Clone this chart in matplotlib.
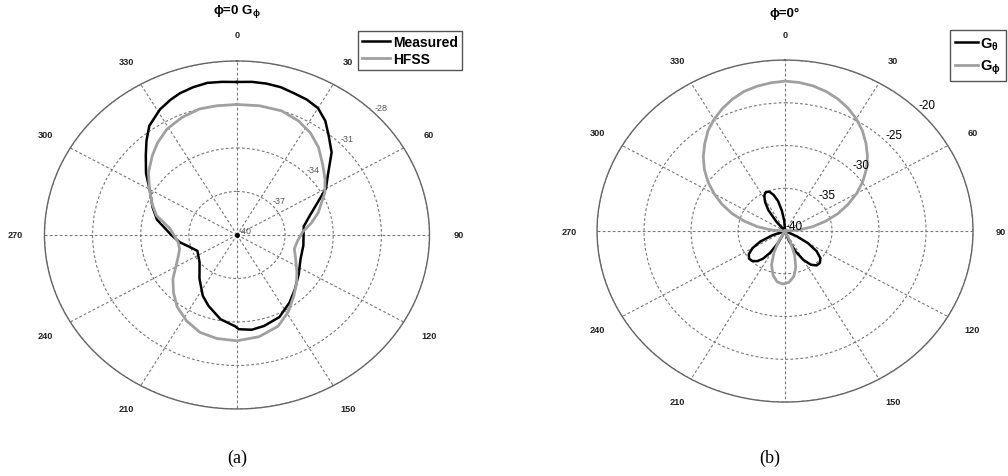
import numpy as np
import matplotlib
matplotlib.use('Agg')
import matplotlib.pyplot as plt

plt.rcParams['font.family'] = ['Liberation Sans', 'DejaVu Sans']
plt.rcParams['mathtext.fontset'] = 'custom'
plt.rcParams['mathtext.rm'] = 'Liberation Sans'
plt.rcParams['mathtext.bf'] = 'Liberation Sans:bold'
plt.rcParams['mathtext.it'] = 'Liberation Sans:italic'

# ---------------- (a) data: angle (deg) / gain (dB) ----------------
meas_ang = [0, 5, 10, 15, 20, 25, 30, 35, 40, 46, 54, 60, 66, 74, 82, 90, 100, 113, 125,
            136, 145, 155, 165, 172, 179, 181, 190, 200, 207, 218, 231, 246, 255, 262,
            270, 282, 290, 299, 307, 314, 319, 324, 331, 336, 340, 345, 350, 355, 360]
meas_db = [-29.45, -29.4, -29.4, -29.45, -29.6, -29.7, -29.9, -30.4, -31.1, -31.8, -33.0,
           -33.6, -34.5, -35.3, -35.8, -35.85, -35.8, -35.7, -35.3, -34.8, -34.3, -33.75,
           -33.5, -33.4, -33.5, -33.7, -34.1, -34.8, -35.3, -36.2, -37.0, -37.3, -36.9,
           -36.4, -35.9, -34.9, -34.4, -33.8, -32.9, -32.1, -31.4, -30.7, -30.1, -29.8,
           -29.6, -29.45, -29.35, -29.4, -29.45]
hfss_ang = [0, 9, 18, 26, 33, 40, 48, 55, 62, 73, 80, 87, 96, 105, 114, 124, 132, 140,
            149, 158, 169, 180, 190, 199, 208, 217, 225, 233, 240, 248, 255, 262, 269,
            276, 285, 292, 300, 308, 316, 322, 329, 337, 345, 352, 360]
hfss_db = [-31.0, -30.98, -31.0, -31.25, -31.6, -32.1, -32.8, -33.3, -33.8, -34.7, -35.3,
           -35.9, -36.2, -36.3, -36.0, -35.5, -35.0, -34.5, -33.8, -33.2, -32.85, -32.7,
           -32.75, -32.9, -33.3, -33.8, -34.4, -35.0, -35.6, -36.05, -36.3, -36.3, -36.1,
           -35.8, -34.8, -34.3, -33.7, -33.0, -32.4, -31.95, -31.5, -31.2, -31.0, -31.0,
           -31.0]
a_rticks = [-40, -37, -34, -31, -28]

# ---------------- (b) data ----------------
gth_ang = [0, 112, 116, 120, 125, 130, 135, 140, 145, 150, 155, 160, 164,
           204, 208, 212, 216, 220, 225, 230, 235, 240, 245, 250, 254,
           316, 320, 324, 328, 332, 336, 340, 344, 348, 352, 356, 360]
gth_db = [-40, -40, -38.6, -37.2, -35.9, -35.1, -34.75, -34.75, -35.2, -36.1, -37.4, -38.8, -40,
          -40, -38.4, -37.0, -36.0, -35.4, -35.05, -35.0, -35.3, -36.0, -37.1, -38.6, -40,
          -40, -38.6, -37.0, -36.0, -35.3, -35.0, -35.1, -35.6, -36.4, -37.6, -38.8, -40]
gph_ang = [-90, -85, -80, -75, -70, -65, -60, -55, -50, -45, -40, -35, -30, -25, -20, -15,
           -10, -5, 0, 5, 10, 15, 20, 25, 30, 35, 40, 45, 50, 55, 60, 65, 70, 75, 80, 85,
           90, 152, 156, 160, 165, 170, 176, 182, 188, 194, 200, 205, 210, 214, 270]
gph_db = [-40, -38.5, -37.0, -35.5, -34.0, -32.6, -31.3, -30.0, -28.8, -27.7, -26.7, -25.7,
          -24.9, -24.2, -23.6, -23.1, -22.8, -22.6, -22.46, -22.56, -22.76, -23.1, -23.56,
          -24.14, -24.84, -25.66, -26.6, -27.6, -28.7, -29.9, -31.2, -32.6, -34.0, -35.5,
          -37.0, -38.5, -40, -40, -38.6, -37.0, -35.6, -34.6, -34.0, -33.8, -34.0, -34.7,
          -35.8, -37.2, -38.7, -40, -40]
b_rticks = [-40, -35, -30, -25, -20]

ang_ticks = [0, 30, 60, 90, 120, 150, 210, 240, 270, 300, 330]

fig = plt.figure(figsize=(10.08, 4.77), dpi=100)

def setup(ax, rmin, rmax, rticks):
    ax.set_theta_zero_location('N')
    ax.set_theta_direction(-1)
    ax.set_ylim(rmin, rmax)
    ax.set_yticks(rticks)
    ax.set_yticklabels([])
    ax.set_xticks(np.deg2rad(np.arange(0, 360, 30)))
    ax.set_xticklabels([])
    ax.grid(True, ls=(0, (2.5, 2)), color='#777777', lw=0.8)
    ax.spines['polar'].set_color('#666666')
    ax.spines['polar'].set_linewidth(1.0)
    ax.set_aspect('auto')
    span = rmax - rmin
    for a in ang_ticks:
        ax.text(np.deg2rad(a), rmin + 1.15 * span, str(a), ha='center', va='center',
                fontsize=6.6, fontweight='bold', color='#222222', clip_on=False)

# (a)
axa = fig.add_axes([0.0441, 0.1405, 0.382, 0.7296], projection='polar')
setup(axa, -40, -28, a_rticks)
l1, = axa.plot(np.deg2rad(meas_ang), meas_db, color='black', lw=1.8, label='Measured')
l2, = axa.plot(np.deg2rad(hfss_ang), hfss_db, color='#a0a0a0', lw=2.0, label='HFSS')
axa.plot([0], [-40], 'o', color='black', ms=2.5)
for v in a_rticks:
    axa.annotate(str(v), xy=(np.deg2rad(45), v), xytext=(1, 3), textcoords='offset points',
                 ha='left', va='center', fontsize=6.5, color='#555555', annotation_clip=False)
fig.text(237 / 1008, 1 - 12 / 477, r'ϕ=0 G$_{\mathbf{ϕ}}$', ha='center', va='center',
         fontsize=9.5, fontweight='bold')
fig.legend(handles=[l1, l2], loc='upper left', bbox_to_anchor=(358 / 1008, 1 - 32 / 477),
           fancybox=False, edgecolor='#555555', framealpha=1, borderpad=0.3,
           handlelength=2.0, handletextpad=0.2, labelspacing=0.2, borderaxespad=0,
           prop={'weight': 'bold', 'size': 10})
fig.text(237 / 1008, 1 - 458 / 477, '(a)', ha='center', va='center', fontsize=13,
         family='Liberation Serif')

# (b)
axb = fig.add_axes([0.5923, 0.155, 0.373, 0.717], projection='polar')
setup(axb, -40, -20, b_rticks)
l3, = axb.plot(np.deg2rad(gth_ang), gth_db, color='black', lw=1.8, label=r'G$_{\mathbf{θ}}$')
l4, = axb.plot(np.deg2rad(gph_ang), gph_db, color='#a0a0a0', lw=2.0, label=r'G$_{\mathbf{ϕ}}$')
for v in b_rticks:
    axb.annotate(str(v), xy=(np.deg2rad(45), v), xytext=(0.5, 4), textcoords='offset points',
                 ha='left', va='center', fontsize=8.5, color='black', annotation_clip=False)
fig.text(785 / 1008, 1 - 14 / 477, 'ϕ=0°', ha='center', va='center',
         fontsize=9.5, fontweight='bold')
fig.legend(handles=[l3, l4], loc='upper right', bbox_to_anchor=(1006 / 1008, 1 - 31 / 477),
           fancybox=False, edgecolor='#555555', framealpha=1, borderpad=0.35,
           handlelength=1.6, handletextpad=0.15, labelspacing=0.45, borderaxespad=0,
           prop={'weight': 'bold', 'size': 10.5})
fig.text(770 / 1008, 1 - 458 / 477, '(b)', ha='center', va='center', fontsize=13,
         family='Liberation Serif')

fig.savefig('out.png', dpi=100)
